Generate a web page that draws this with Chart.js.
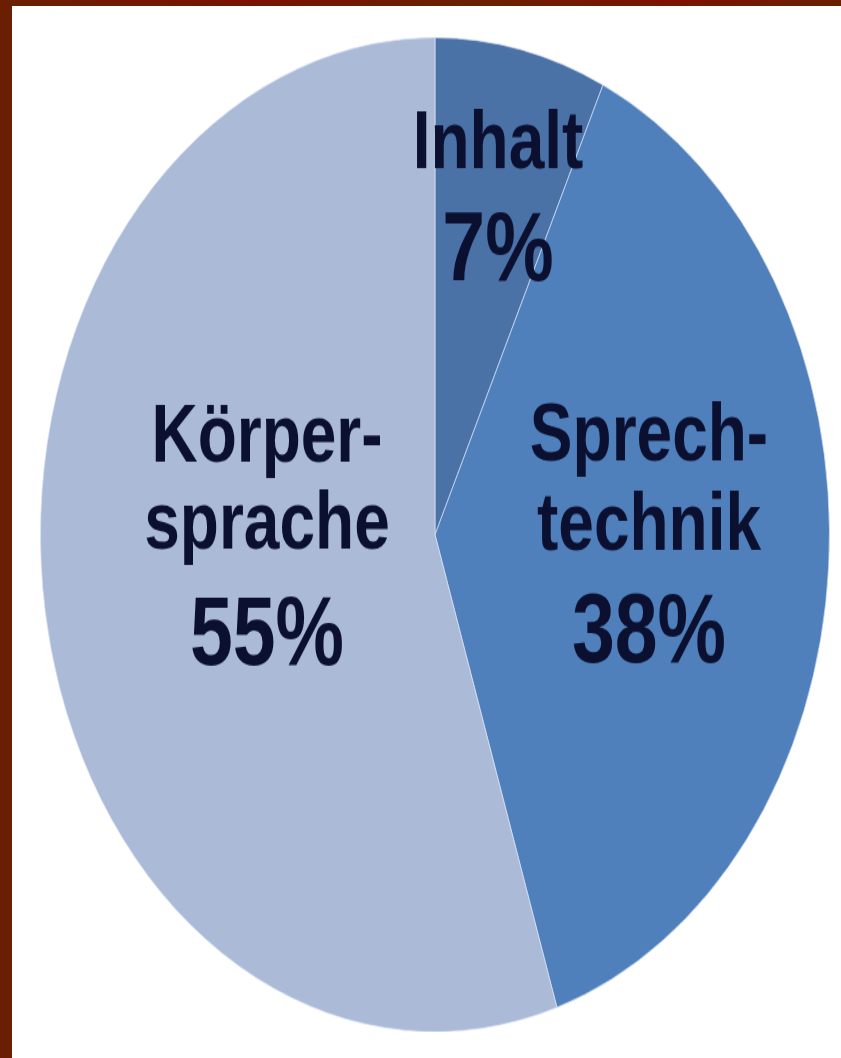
<!DOCTYPE html>
<html>
<head>
<meta charset="utf-8">
<script src="https://cdn.jsdelivr.net/npm/chart.js@4/dist/chart.umd.min.js"></script>
<style>
  html, body { margin: 0; padding: 0; background: #ffffff; }
  body { width: 841px; height: 1058px; position: relative; overflow: hidden; }
  #frameLeft { position: absolute; left: 0; top: 0; width: 12px; height: 1058px; background: #6a1f02; }
  #frameTop { position: absolute; left: 0; top: 0; width: 841px; height: 6px;
    background: linear-gradient(90deg, #6a1f02, #7a1204 30%, #6a2002 55%, #7c1204 80%, #6a1f02); }
  #wrap { position: absolute; left: 40px; top: 37px; width: 790px; height: 790px;
    transform: scaleY(1.26); transform-origin: 0 0; }
</style>
</head>
<body>
<div id="frameLeft"></div>
<div id="frameTop"></div>
<div id="wrap"><canvas id="chartPie"></canvas></div>
<script>
var categories = ["Inhalt", "Sprechtechnik", "Körpersprache"];
var shares = [7, 38, 55];
var labelLines = [["Inhalt"], ["Sprech-", "technik"], ["Körper-", "sprache"]];
var sliceColors = ["#4a72a6", "#4f80bc", "#abbad7"];

// where each label block sits relative to the pie centre (canvas units, before stretch)
var labelSpots = [
  { dx: 63, lines: [-291], pct: -202 },
  { dx: 214, lines: [-59, 12], pct: 101 },
  { dx: -168, lines: [-58, 11], pct: 103 }
];

var pieLabels = {
  id: "pieLabels",
  afterDatasetsDraw: function (chart) {
    var ctx = chart.ctx;
    var arcs = chart.getDatasetMeta(0).data;
    ctx.save();
    ctx.fillStyle = "#0b1030";
    ctx.textAlign = "center";
    ctx.textBaseline = "alphabetic";
    arcs.forEach(function (arc, i) {
      var spot = labelSpots[i];
      var x = arc.x + spot.dx;
      ctx.font = "bold 64px 'Liberation Sans', Arial, sans-serif";
      labelLines[i].forEach(function (line, j) {
        ctx.fillText(line, x, arc.y + spot.lines[j]);
      });
      ctx.font = "bold 77px 'Liberation Sans', Arial, sans-serif";
      ctx.fillText(shares[i] + "%", x, arc.y + spot.pct);
    });
    ctx.restore();
  }
};

var pieCanvas = document.getElementById("chartPie");

var pieChart = new Chart(pieCanvas, {
  type: "pie",
  data: {
    labels: categories,
    datasets: [{
      data: shares,
      backgroundColor: sliceColors,
      borderColor: "rgba(220,228,245,0.7)",
      borderWidth: 1
    }]
  },
  options: {
    responsive: true,
    maintainAspectRatio: false,
    animation: false,
    layout: { padding: 0 },
    plugins: {
      legend: { display: false },
      tooltip: { enabled: false }
    }
  },
  plugins: [pieLabels]
});
</script>
</body>
</html>
